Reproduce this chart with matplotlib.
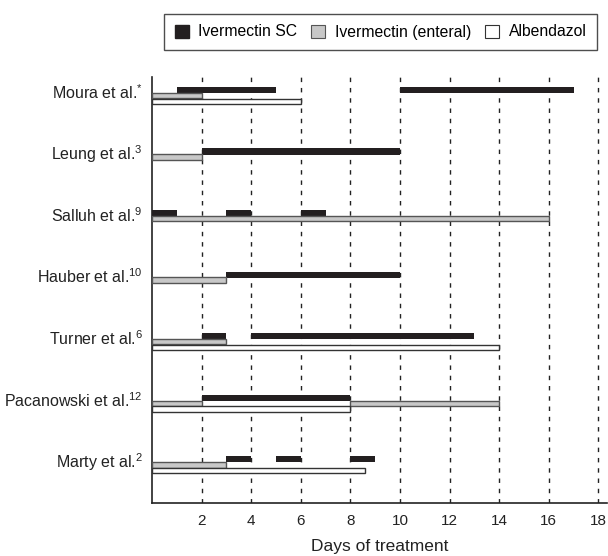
import matplotlib
matplotlib.use("Agg")
import matplotlib.pyplot as plt
from matplotlib.patches import Patch

plt.rcParams['font.family'] = ['Liberation Sans', 'DejaVu Sans']
plt.rcParams['mathtext.fontset'] = 'custom'
plt.rcParams['mathtext.rm'] = 'Liberation Sans'
plt.rcParams['mathtext.it'] = 'Liberation Sans:italic'
plt.rcParams['mathtext.bf'] = 'Liberation Sans:bold'

# ---- data ----
studies = ["Moura et al.", "Leung et al.", "Salluh et al.", "Hauber et al.",
           "Turner et al.", "Pacanowski et al.", "Marty et al."]
refs = ["*", "3", "9", "10", "6", "12", "2"]
# (start day, end day) segments for each study
sc_segments = [[(1, 5), (10, 17)], [(2, 10)], [(0, 1), (3, 4), (6, 7)], [(3, 10)],
               [(2, 3), (4, 13)], [(2, 8)], [(3, 4), (5, 6), (8, 9)]]
enteral_segments = [[(0, 2)], [(0, 2)], [(0, 16)], [(0, 3)],
                    [(0, 3)], [(0, 2), (8, 14)], [(0, 3)]]
alb_segments = [[(0, 6)], [], [], [], [(0, 14)], [(0, 8)], [(0, 8.6)]]
xticks = [2, 4, 6, 8, 10, 12, 14, 16, 18]
legend_labels = ["Ivermectin SC", "Ivermectin (enteral)", "Albendazol"]

sc_color = "#231f20"
ent_color = "#c8c8c8"
ent_edge = "#555555"
alb_edge = "#333333"

fig = plt.figure(figsize=(6.08, 5.56), dpi=100)
ax = fig.add_axes([152/608, 1-503/556, (607-152)/608, (503-77)/556])

for i in range(len(studies)):
    for (s, e) in sc_segments[i]:
        ax.barh(i - 0.09, e - s, left=s, height=0.1, color=sc_color, edgecolor='none', zorder=3)
    for (s, e) in enteral_segments[i]:
        ax.barh(i, e - s, left=s, height=0.09, color=ent_color, edgecolor=ent_edge, linewidth=1.0, zorder=3)
    for (s, e) in alb_segments[i]:
        ax.barh(i + 0.095, e - s, left=s, height=0.09, color='white', edgecolor=alb_edge, linewidth=1.0, zorder=3)
    ax.text(-0.02, i - 0.05, f"{studies[i]}$^{{\\mathregular{{{refs[i]}}}}}$",
            transform=ax.get_yaxis_transform(), ha='right', va='center', fontsize=11.5, color='#222222')

for x in xticks:
    ax.axvline(x, color='#222222', linewidth=1.0, linestyle=(0, (3.2, 4.2)), zorder=1)

ax.set_xlim(0, 18.35)
ax.set_ylim(6.62, -0.30)
ax.set_xticks(xticks)
ax.set_xticklabels([str(t) for t in xticks])
ax.set_yticks([])
ax.tick_params(axis='x', length=0, pad=8, labelsize=11, colors='#222222')
for side in ['top', 'right']:
    ax.spines[side].set_visible(False)
for side in ['left', 'bottom']:
    ax.spines[side].set_linewidth(1.2)
    ax.spines[side].set_color('#222222')
ax.set_xlabel("Days of treatment", fontsize=12.5, labelpad=8, color='#222222')

handles = [Patch(facecolor=sc_color, edgecolor=sc_color),
           Patch(facecolor=ent_color, edgecolor=ent_edge, linewidth=0.8),
           Patch(facecolor='white', edgecolor=alb_edge, linewidth=0.8)]
leg = fig.legend(handles, legend_labels, loc='center', bbox_to_anchor=(380.5/608, 1-32/556),
                 ncol=3, fontsize=11.3, frameon=True, fancybox=False, handlelength=0.9,
                 handleheight=0.9, handletextpad=0.6, columnspacing=0.9, borderpad=0.7)
leg.get_frame().set_edgecolor('#222222')
leg.get_frame().set_linewidth(1.0)

fig.savefig("out.png", dpi=100)
